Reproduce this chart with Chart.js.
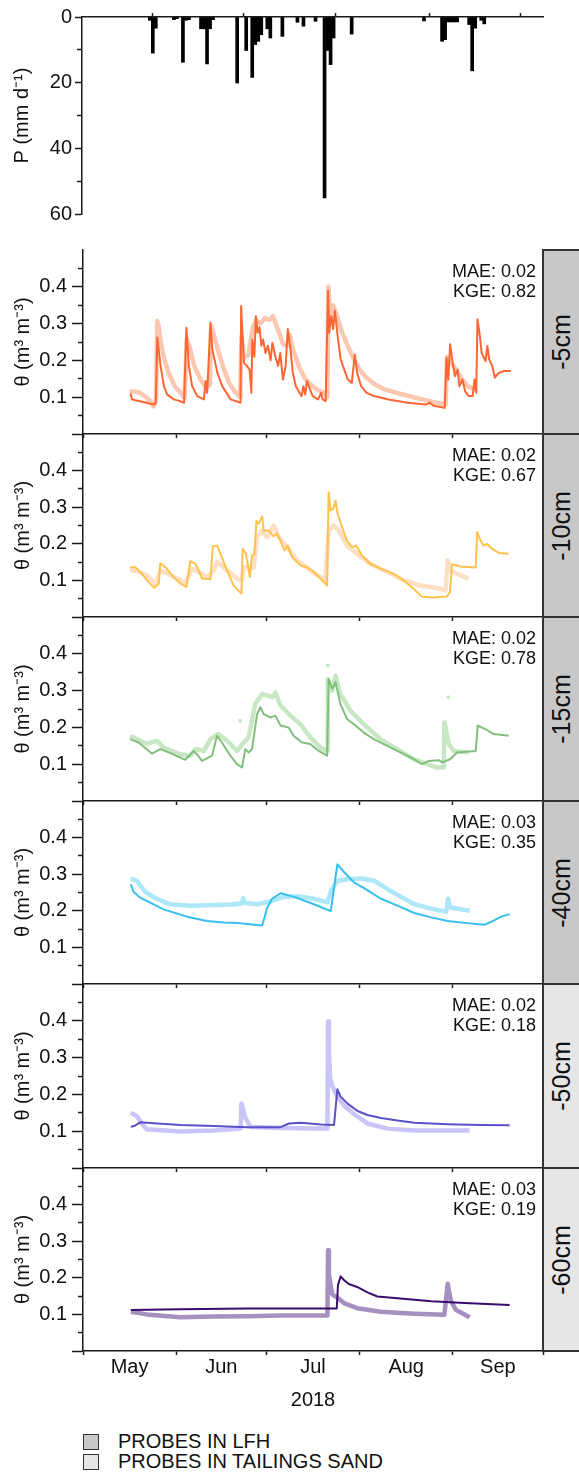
<!DOCTYPE html>
<html>
<head>
<meta charset="utf-8">
<script src="https://cdn.jsdelivr.net/npm/chart.js@4"></script>
<style>
  html,body{margin:0;padding:0;background:#fff;}
  body{position:relative;width:579px;height:1480px;overflow:hidden;font-family:'Liberation Sans',Arial,Helvetica,sans-serif;color:#111;}
  canvas{position:absolute;left:0;}
  .strip{position:absolute;left:542px;width:45px;box-sizing:border-box;border:2px solid #333;border-right:none;}
  .strip span{position:absolute;left:17px;top:50%;transform:translate(-50%,-50%) rotate(-90deg);font-size:25px;white-space:nowrap;}
  .stats{position:absolute;right:43px;font-size:18px;line-height:20px;text-align:right;white-space:nowrap;}
  .leg{position:absolute;left:83px;height:21px;display:flex;align-items:center;font-size:20px;white-space:nowrap;}
  .leg i{display:inline-block;width:16px;height:16px;box-sizing:border-box;border:1.5px solid #333;margin-right:19px;}
</style>
</head>
<body>
<script>
// ---------------- DATA ----------------
// x axis: day counted from 1 May 2018
const monthStartDays = [0, 31, 61, 92, 123, 153];
const monthNames = ['May', 'Jun', 'Jul', 'Aug', 'Sep'];
const xAxisTitle = '2018';

// precipitation (mm/day)
const precipDay = [22,23,24,30,31,33,34,35,39,40,41,42,43,51,54,56,57,58,59,61,62,66,71,73,77,80,81,82,83,89,113,119,120,121,122,123,124,128,129,130,132,133];
const precipMM  = [1.0,11.0,3.4,0.8,0.5,13.8,1.0,0.8,3.6,3.6,14.3,3.6,0.8,20.1,10.2,18.4,8.4,7.4,5.4,3.6,6.4,5.9,1.6,2.8,1.3,55.1,10.2,14.5,6.4,5.2,1.2,7.4,6.9,1.5,1.5,1.5,1.5,2.3,16.4,3.4,1.0,2.1];
const precipTickValues = [0,10,20,30,40,50,60];
const precipLabelTicks = [0,20,40,60];

// soil moisture tick values
const thetaTickValues = [0,0.05,0.1,0.15,0.2,0.25,0.3,0.35,0.4,0.45];
const thetaMajorTicks = [0,0.1,0.2,0.3,0.4];
const thetaLabelTicks = [0.1,0.2,0.3,0.4];

// panels
const depthLabels = ['-5cm','-10cm','-15cm','-40cm','-50cm','-60cm'];
const probeLayer  = ['LFH','LFH','LFH','LFH','SAND','SAND'];
const maeValues   = ['0.02','0.02','0.02','0.03','0.02','0.03'];
const kgeValues   = ['0.82','0.67','0.78','0.35','0.18','0.19'];
const legendLabels = ['PROBES IN LFH', 'PROBES IN TAILINGS SAND'];

// simulated / observed theta series: [day, theta]
const sim5 = [[15.8,0.110],[16.3,0.094],[19,0.089],[22,0.083],[23.6,0.080],[24.2,0.085],[24.7,0.262],[25.2,0.230],[25.8,0.185],[26.9,0.130],[28,0.107],[30.2,0.094],[32,0.090],[33.6,0.085],[34.4,0.289],[35.2,0.185],[36.3,0.130],[38,0.103],[40.2,0.094],[40.8,0.144],[41.3,0.112],[42.4,0.303],[43,0.230],[44.7,0.166],[46.3,0.130],[49.1,0.094],[52.4,0.085],[52.6,0.348],[53.5,0.194],[54.5,0.185],[55.4,0.175],[56,0.112],[56.3,0.257],[57,0.210],[57.5,0.320],[58.1,0.275],[58.7,0.290],[59.3,0.240],[59.9,0.257],[60.7,0.220],[61.5,0.240],[62.4,0.200],[63,0.248],[64,0.210],[64.9,0.185],[65.6,0.220],[66.5,0.148],[67.4,0.185],[68.1,0.285],[69,0.230],[69.8,0.166],[70.8,0.130],[72,0.112],[72.7,0.103],[73.3,0.130],[73.9,0.107],[74.5,0.144],[75.5,0.121],[76.4,0.103],[78.2,0.094],[79.2,0.112],[79.7,0.094],[80.7,0.089],[81.5,0.389],[81.9,0.275],[82.6,0.320],[83.2,0.285],[83.8,0.335],[84.7,0.266],[85.7,0.203],[86.9,0.175],[88.1,0.148],[89.4,0.139],[90.4,0.216],[91.2,0.166],[92.5,0.130],[94.3,0.112],[96.8,0.103],[101.7,0.094],[107.9,0.085],[114.1,0.080],[115.3,0.085],[116.6,0.077],[120.3,0.071],[120.9,0.207],[121.5,0.148],[122.1,0.244],[122.8,0.203],[123.7,0.157],[124.6,0.175],[125.2,0.130],[126.2,0.148],[127.1,0.116],[128.3,0.103],[129.6,0.103],[130.2,0.148],[130.8,0.112],[131.2,0.312],[132,0.266],[132.6,0.220],[133.9,0.198],[134.5,0.239],[135.1,0.203],[136.1,0.185],[137,0.153],[138.2,0.166],[140.1,0.171],[142.3,0.171]];
const obs5 = [[15.5,0.115],[17,0.116],[19,0.112],[21,0.100],[22.5,0.088],[23.5,0.075],[24.3,0.090],[24.7,0.307],[25.2,0.290],[26,0.245],[27,0.205],[28.5,0.165],[30.5,0.130],[32.5,0.112],[33.8,0.098],[34.5,0.260],[35.5,0.235],[37,0.185],[39,0.150],[41,0.125],[42.2,0.135],[42.6,0.295],[43.5,0.270],[45,0.225],[46.5,0.185],[48.5,0.140],[50.5,0.115],[52.3,0.100],[52.7,0.265],[53.5,0.205],[55,0.215],[56.5,0.290],[57.5,0.310],[59,0.300],[60.5,0.315],[62,0.310],[63.2,0.320],[64.5,0.290],[65.5,0.270],[66.5,0.245],[68,0.240],[68.7,0.270],[70,0.225],[72,0.180],[74,0.148],[76,0.132],[78,0.120],[80.5,0.110],[81.3,0.100],[81.6,0.400],[82.3,0.310],[83.2,0.350],[84.5,0.320],[86,0.280],[88,0.240],[90,0.205],[92,0.175],[94,0.155],[97,0.135],[100,0.122],[105,0.110],[110,0.100],[115,0.090],[119,0.082],[120.6,0.080],[121.1,0.210],[122,0.200],[124,0.175],[126,0.150],[128,0.130],[130.5,0.120]];

const sim10 = [[15.7,0.136],[17.4,0.136],[19.1,0.123],[21.3,0.100],[23.7,0.080],[25.2,0.091],[25.7,0.147],[27.4,0.136],[30.2,0.109],[32.4,0.091],[34.4,0.082],[35.7,0.153],[37.4,0.145],[38.5,0.127],[39.6,0.105],[42.4,0.103],[43.2,0.193],[44.6,0.195],[45.7,0.173],[47.9,0.127],[50.1,0.086],[52.7,0.064],[53.1,0.186],[54.2,0.173],[55.5,0.109],[56.2,0.168],[57,0.171],[57.7,0.262],[58.4,0.255],[59.6,0.275],[60.1,0.236],[61.8,0.236],[63.4,0.220],[64.5,0.229],[65.7,0.209],[67,0.182],[68.1,0.195],[69.5,0.164],[72.3,0.141],[74.5,0.136],[76.2,0.127],[79,0.105],[81.2,0.086],[81.7,0.341],[82.3,0.291],[83.2,0.295],[84,0.318],[84.7,0.282],[86.2,0.245],[87.8,0.209],[89.5,0.191],[90.9,0.195],[92.8,0.168],[95.6,0.145],[98.9,0.132],[103.4,0.118],[106.7,0.100],[110,0.077],[112.8,0.055],[116.7,0.053],[121.1,0.056],[122,0.068],[122.8,0.144],[125.6,0.138],[130.6,0.135],[131.1,0.232],[132.2,0.209],[133.3,0.195],[134.4,0.200],[136.1,0.186],[138.3,0.175],[141.6,0.173]];
const obs10 = [[15.7,0.129],[18,0.125],[21.3,0.114],[24.1,0.091],[25.7,0.127],[28,0.120],[30.2,0.109],[34,0.095],[36.3,0.132],[38.5,0.123],[41.3,0.109],[43.5,0.127],[44.6,0.150],[46.8,0.136],[51.2,0.105],[52.8,0.100],[53.5,0.136],[56.8,0.136],[57.9,0.218],[59.6,0.236],[61.2,0.218],[63.4,0.250],[65.1,0.218],[67.9,0.191],[71.2,0.155],[75.6,0.127],[80.6,0.100],[81.7,0.236],[83.4,0.250],[85.1,0.236],[87.8,0.195],[91.2,0.173],[95.6,0.145],[101.2,0.123],[106.7,0.100],[112.2,0.086],[119,0.077],[120.6,0.073],[121.3,0.155],[122.2,0.127],[124.4,0.118],[128.3,0.105]];

const sim15 = [[15.7,0.168],[18.5,0.159],[22.9,0.129],[25.7,0.141],[28.5,0.132],[32.4,0.118],[34,0.112],[36.8,0.136],[37.9,0.127],[39.6,0.109],[42.9,0.123],[44.6,0.177],[46.2,0.159],[49,0.123],[51.2,0.100],[52.9,0.091],[54,0.141],[55.1,0.132],[56.2,0.141],[57.9,0.236],[59,0.255],[60.1,0.236],[62.3,0.227],[64,0.232],[65.7,0.205],[68.4,0.200],[70.1,0.177],[72.9,0.159],[75.6,0.155],[78.4,0.136],[81.2,0.123],[81.7,0.332],[82.9,0.305],[84,0.323],[85.6,0.264],[87.8,0.223],[90.6,0.205],[93.4,0.186],[96.7,0.168],[101.2,0.150],[105.6,0.132],[110,0.114],[112.8,0.100],[115,0.109],[118.3,0.111],[119.5,0.105],[122.2,0.114],[124.4,0.132],[130.6,0.136],[131.3,0.205],[133.9,0.195],[136.6,0.182],[141.6,0.177]];
const obs15 = [[15.7,0.177],[21.3,0.155],[24.6,0.164],[26.8,0.145],[32.4,0.127],[35.7,0.123],[37.4,0.141],[40.2,0.136],[42.4,0.168],[45.1,0.182],[47.9,0.164],[51.2,0.136],[53.5,0.159],[55.1,0.173],[57.3,0.264],[59.6,0.291],[62.9,0.282],[64,0.295],[65.7,0.259],[69,0.232],[72.3,0.209],[75.6,0.173],[79,0.145],[81.2,0.136],[81.4,0.330],[82.9,0.300],[84,0.341],[85.6,0.291],[89,0.245],[93.4,0.209],[98.9,0.168],[104.5,0.141],[110,0.114],[114.5,0.100],[117.8,0.091],[120,0.091],[120.2,0.214],[121.7,0.155],[123.3,0.136],[128.3,0.132]];
const obs15Spots = [[52.3,0.218],[81.4,0.368],[121.5,0.282]];

const sim40 = [[15.9,0.272],[16.8,0.252],[19,0.236],[26.8,0.204],[34.6,0.184],[41.2,0.172],[46.8,0.168],[51.2,0.167],[54.6,0.164],[59.6,0.160],[61.3,0.209],[62.9,0.233],[65.7,0.248],[70.2,0.238],[76.8,0.218],[82.4,0.199],[84.6,0.327],[86.8,0.306],[90.2,0.277],[93.5,0.262],[99.1,0.233],[104.6,0.214],[110.2,0.194],[115.8,0.182],[121.3,0.172],[126.9,0.167],[133.6,0.162],[135.8,0.170],[139.1,0.184],[141.9,0.191]];
const obs40 = [[15.9,0.288],[17.9,0.282],[20.7,0.252],[24.5,0.233],[29,0.218],[35.7,0.214],[43.5,0.216],[49,0.217],[52.8,0.220],[53.3,0.235],[53.8,0.222],[57.9,0.218],[62.4,0.226],[66.8,0.238],[71.3,0.240],[76.8,0.233],[81.3,0.223],[82.6,0.257],[84.6,0.282],[88,0.286],[92.5,0.288],[96.9,0.282],[101.3,0.259],[105.8,0.238],[110.2,0.218],[115.8,0.206],[120.8,0.197],[121.4,0.233],[122.2,0.209],[128.6,0.200]];

const sim50 = [[15.9,0.112],[17.3,0.115],[19,0.124],[21.2,0.123],[32.3,0.117],[43.5,0.114],[54.6,0.111],[65.7,0.111],[68.5,0.121],[72.4,0.123],[79.1,0.118],[83.5,0.117],[84.6,0.214],[85.7,0.194],[88,0.175],[91.3,0.155],[94.6,0.144],[99.1,0.136],[104.6,0.129],[110.2,0.123],[121.3,0.119],[132.4,0.117],[141.9,0.116]];
const obs50 = [[15.9,0.150],[17.9,0.141],[19.6,0.121],[21.2,0.105],[32.3,0.099],[43.5,0.102],[52.4,0.107],[52.7,0.175],[54,0.136],[55.7,0.112],[65.7,0.109],[76.8,0.107],[81.3,0.107],[81.5,0.398],[81.8,0.320],[82.2,0.243],[82.9,0.223],[84.6,0.194],[86.8,0.170],[90.2,0.146],[94.6,0.121],[101.3,0.107],[110.2,0.102],[121.3,0.102],[128.6,0.102]];

const sim60 = [[15.9,0.112],[32.3,0.114],[54.6,0.116],[84.4,0.116],[84.8,0.180],[85.7,0.204],[86.8,0.194],[88.4,0.183],[91.2,0.175],[94.6,0.160],[97.9,0.149],[104.6,0.144],[115.8,0.136],[126.9,0.131],[141.9,0.126]];
const obs60 = [[15.9,0.107],[21.2,0.100],[32.3,0.092],[43.5,0.094],[54.6,0.095],[65.7,0.097],[81.3,0.097],[81.5,0.275],[81.8,0.209],[82.2,0.189],[82.9,0.155],[84.6,0.146],[86.8,0.131],[91.2,0.117],[99.1,0.107],[110.2,0.102],[120.2,0.099],[121.3,0.184],[122.4,0.136],[124.1,0.112],[128.6,0.092]];

// ---------------- STYLE / LAYOUT ----------------
const simSeries = [sim5, sim10, sim15, sim40, sim50, sim60];
const obsSeries = [obs5, obs10, obs15, obs40, obs50, obs60];
const spotSeries = [[], [], obs15Spots, [], [], []];
const simColors = ['#ff6633','#ffc24d','#80bf7c','#35bff0','#5a50c8','#3a0c6e'];
const obsColors = ['#fcc7b0','#fddfc3','#c8e7c4','#aee7f8','#c9c5f8','#a590bf'];
const stripFill = {LFH: '#c8c8c8', SAND: '#e6e6e6'};

const FONT = "'Liberation Sans', Arial, Helvetica, sans-serif";
const AX = '#1a1a1a', TXT = '#111';
const TICK_FS = 20, TITLE_FS = 20;
Chart.defaults.font.family = FONT;
Chart.defaults.color = TXT;

const panelTop = [250, 434, 617, 801, 984, 1168];
const PLOT_BOTTOM = 1351;
const RIGHT_PAD = 36;          // plot right edge at 543

const near = (arr, v) => arr.some(a => Math.abs(a - v) < 1e-6);
const toXY = pairs => pairs.map(p => ({x: p[0], y: p[1]}));
const monthMids = monthStartDays.slice(0, -1).map((d, i) => (d + monthStartDays[i + 1]) / 2);
const monthAllTicks = monthStartDays.concat(monthMids).sort((a, b) => a - b);

function makeCanvas(top, height) {
  const c = document.createElement('canvas');
  c.width = 579; c.height = height;
  c.style.top = top + 'px'; c.style.width = '579px'; c.style.height = height + 'px';
  document.body.appendChild(c);
  return c;
}

function xScale(o) {
  return {
    type: 'linear', position: o.position, offset: false,
    min: monthStartDays[0], max: monthStartDays[monthStartDays.length - 1],
    afterBuildTicks: s => { s.ticks = monthAllTicks.map(v => ({value: v})); },
    afterFit: s => { s.height = o.height; },
    border: {color: AX, width: 1.5},
    grid: {drawOnChartArea: false, tickLength: 4, tickWidth: 1.5,
      tickColor: c => (!c.tick || near(monthStartDays, c.tick.value)) ? AX : 'rgba(0,0,0,0)'},
    ticks: {display: !!o.labels, autoSkip: false, maxRotation: 0, padding: 0,
      font: {size: TICK_FS}, color: TXT,
      callback: v => { const i = monthMids.findIndex(m => Math.abs(m - v) < 1e-6); return i >= 0 ? monthNames[i] : ''; }},
    title: {display: !!o.title, text: o.title || '', font: {size: TITLE_FS}, color: TXT, padding: {top: 0, bottom: 1}}
  };
}

const baseOpts = {responsive: false, animation: false, events: [], devicePixelRatio: 1,
  plugins: {legend: {display: false}, tooltip: {enabled: false}}};

// ---------- precipitation panel ----------
(function () {
  const c = makeCanvas(0, 232);
  new Chart(c, {
    type: 'bar',
    data: {datasets: [{
      data: precipDay.map((d, i) => ({x: d + 0.5, y: precipMM[i]})),
      backgroundColor: '#000', borderWidth: 0, barPercentage: 1, categoryPercentage: 1, grouped: false
    }]},
    options: Object.assign({}, baseOpts, {
      layout: {padding: {top: 0, right: RIGHT_PAD, left: 0, bottom: 18}},
      scales: {
        x: xScale({position: 'top', height: 17}),
        y: {
          type: 'linear', min: 0, max: 60, reverse: true,
          afterBuildTicks: s => { s.ticks = precipTickValues.map(v => ({value: v})); },
          afterFit: s => { s.width = 82; },
          border: {color: AX, width: 1.5},
          grid: {drawOnChartArea: false, tickLength: 7, tickWidth: 1.5, tickColor: AX,
            tickBorderDash: c => (c.tick && !near(precipLabelTicks, c.tick.value)) ? [0, 1.95, 4.3, 100] : []},
          ticks: {autoSkip: false, padding: 3, font: {size: TICK_FS}, color: TXT,
            callback: v => near(precipLabelTicks, v) ? String(v) : ''},
          title: {display: true, text: 'P (mm d⁻¹)', font: {size: TITLE_FS}, color: TXT, padding: {top: 10, bottom: 0}}
        }
      }
    })
  });
})();

// ---------- soil moisture panels ----------
panelTop.forEach((T, k) => {
  const B = k < panelTop.length - 1 ? panelTop[k + 1] : PLOT_BOTTOM;
  const last = k === panelTop.length - 1;
  const above = 18, below = last ? 62 : 18;
  const c = makeCanvas(T - above, (B - T) + above + below);
  const datasets = [
    {data: toXY(simSeries[k]), borderColor: simColors[k], borderWidth: 2, pointRadius: 0, tension: 0,
     borderJoinStyle: 'round', order: 0},
    {data: toXY(obsSeries[k]), borderColor: obsColors[k], borderWidth: 4.5, pointRadius: 0, tension: 0,
     borderJoinStyle: 'round', order: 2}
  ];
  if (spotSeries[k].length) {
    datasets.push({data: toXY(spotSeries[k]), showLine: false, pointStyle: 'rect', pointRadius: 2.4,
      backgroundColor: obsColors[k], borderWidth: 0, order: 1});
  }
  new Chart(c, {
    type: 'line',
    data: {datasets},
    options: Object.assign({}, baseOpts, {
      layout: {padding: {top: above, right: RIGHT_PAD, left: 0, bottom: 0}},
      scales: {
        x: xScale({position: 'bottom', height: below, labels: last, title: last ? xAxisTitle : ''}),
        y: {
          type: 'linear', min: 0, max: 0.5,
          afterBuildTicks: s => { s.ticks = thetaTickValues.map(v => ({value: v})); },
          afterFit: s => { s.width = 83; },
          border: {color: AX, width: 1.5},
          grid: {drawOnChartArea: false, tickLength: 11, tickWidth: 1.5, tickColor: AX,
            tickBorderDash: c => (c.tick && !near(thetaMajorTicks, c.tick.value)) ? [0, 5.95, 4.3, 100] : []},
          ticks: {autoSkip: false, padding: 5, font: {size: TICK_FS}, color: TXT,
            callback: v => near(thetaLabelTicks, v) ? v.toFixed(1) : ''},
          title: {display: true, text: 'θ (m³ m⁻³)', font: {size: TITLE_FS}, color: TXT, padding: {top: 11, bottom: 0}}
        }
      }
    })
  });

  // depth strip
  const strip = document.createElement('div');
  strip.className = 'strip';
  strip.style.top = (T - 1) + 'px';
  strip.style.height = (B - T + 2) + 'px';
  strip.style.background = stripFill[probeLayer[k]];
  const sp = document.createElement('span');
  sp.textContent = depthLabels[k];
  strip.appendChild(sp);
  document.body.appendChild(strip);

  // statistics
  const st = document.createElement('div');
  st.className = 'stats';
  st.style.top = (T + 11) + 'px';
  st.innerHTML = 'MAE: ' + maeValues[k] + '<br>KGE: ' + kgeValues[k];
  document.body.appendChild(st);
});

// ---------- legend ----------
[['LFH', 1431], ['SAND', 1451]].forEach(([key, top], i) => {
  const d = document.createElement('div');
  d.className = 'leg';
  d.style.top = top + 'px';
  const box = document.createElement('i');
  box.style.background = stripFill[key];
  d.appendChild(box);
  d.appendChild(document.createTextNode(legendLabels[i]));
  document.body.appendChild(d);
});
</script>
</body>
</html>
